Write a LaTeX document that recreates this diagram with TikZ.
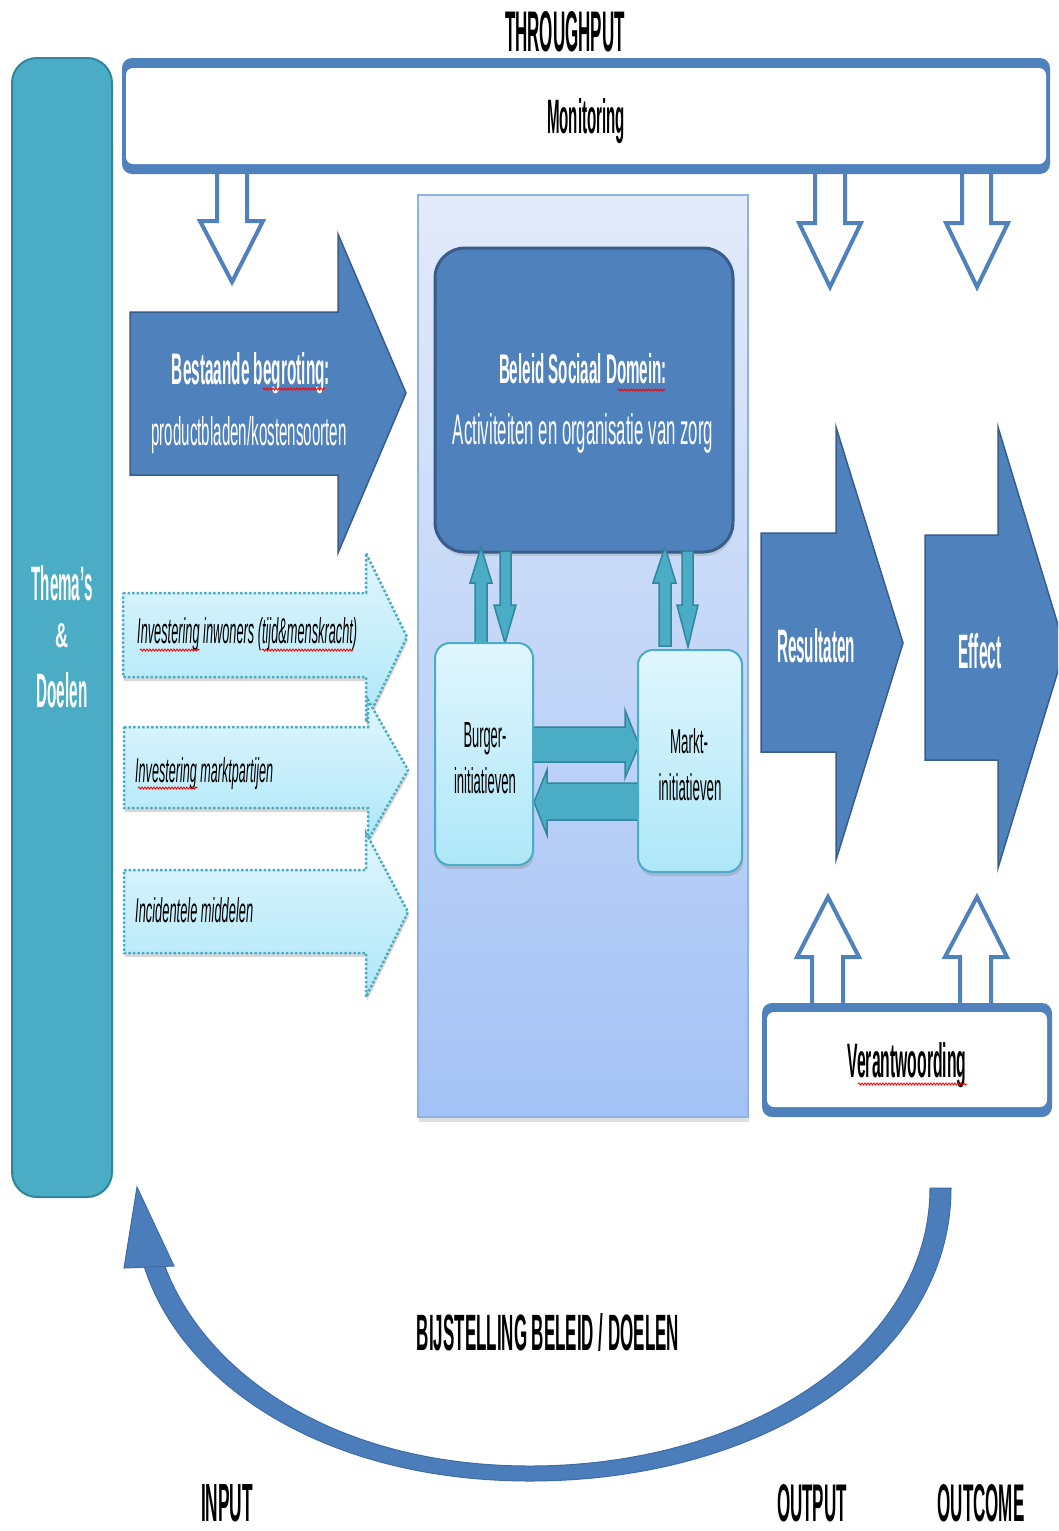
\documentclass[tikz,border=0pt]{standalone}
\usepackage{fontspec}
\setmainfont{Liberation Sans}
\usepackage{graphicx}
\usetikzlibrary{shadows,decorations.pathmorphing}
\definecolor{dblue}{HTML}{4F81BD}
\definecolor{dblueB}{HTML}{385D8A}
\definecolor{teal1}{HTML}{4BACC6}
\definecolor{teal2}{HTML}{31859C}
\definecolor{cyanT}{HTML}{E0F6FD}
\definecolor{cyanB}{HTML}{AEE7F8}
\definecolor{panT}{HTML}{E3EBFA}
\definecolor{panB}{HTML}{A3C2F5}
\definecolor{panE}{HTML}{8DB3E2}
\definecolor{arcB}{HTML}{4A7DBA}
\definecolor{arcD}{HTML}{3F6CA6}
\newcommand\fitt[3]{\resizebox{#1pt}{#2pt}{#3}}
\tikzset{
 lbl/.style={inner sep=0pt, anchor=base},
 lblw/.style={inner sep=0pt, anchor=base west},
 bigarrow/.style={fill=dblue, draw=dblueB, line width=1.5pt, line join=miter},
 hollowline/.style={draw=dblue, line width=4pt, line join=miter},
 tealarrow/.style={fill=teal1, draw=teal2, line width=1.5pt, line join=miter},
 cyanarrow/.style={top color=cyanT, bottom color=cyanB, draw=teal1, dash pattern=on 2.5pt off 2pt, line width=2.5pt, line join=miter, drop shadow={opacity=0.3,shadow xshift=1pt,shadow yshift=-4pt}},
 initbox/.style={rounded corners=15pt, top color=cyanT, bottom color=cyanB, draw=teal1, line width=2pt, drop shadow={opacity=0.3,shadow xshift=1pt,shadow yshift=-4pt}},
 squig/.style={draw=red, line width=0.9pt, decorate, decoration={snake, amplitude=1pt, segment length=3pt}},
}
\begin{document}
\begin{tikzpicture}[x=1pt,y=-1pt]
\useasboundingbox (0,0) rectangle (1058,1531);
\clip (0,0) rectangle (1058,1531);
\fill[white] (0,0) rectangle (1058,1531);

% left theme column
\path[fill=teal1, draw=teal2, line width=2pt, rounded corners=25pt] (12,58) rectangle (112,1197);

% hollow arrows from Monitoring
\fill[white] (217,165) -- (217,221) -- (200,221) -- (232,282) -- (263,221) -- (247,221) -- (247,165) -- cycle;
\draw[hollowline] (217,165) -- (217,221) -- (200,221) -- (232,282) -- (263,221) -- (247,221) -- (247,165);
\fill[white] (815,165) -- (815,223) -- (799,223) -- (830,287) -- (861,223) -- (845,223) -- (845,165) -- cycle;
\draw[hollowline] (815,165) -- (815,223) -- (799,223) -- (830,287) -- (861,223) -- (845,223) -- (845,165);
\fill[white] (962,165) -- (962,223) -- (946,223) -- (977,287) -- (1008,223) -- (991,223) -- (991,165) -- cycle;
\draw[hollowline] (962,165) -- (962,223) -- (946,223) -- (977,287) -- (1008,223) -- (991,223) -- (991,165);

% Monitoring box
\fill[dblue, rounded corners=10pt] (122,58) rectangle (1050,174);
\fill[white, rounded corners=7pt] (126,68) rectangle (1046,164);

% hollow arrows up to Resultaten / Effect
\fill[white] (812,1010) -- (812,957) -- (797,957) -- (828,897) -- (859,957) -- (843,957) -- (843,1010) -- cycle;
\draw[hollowline] (812,1010) -- (812,957) -- (797,957) -- (828,897) -- (859,957) -- (843,957) -- (843,1010);
\fill[white] (960,1010) -- (960,957) -- (945,957) -- (977,897) -- (1007,957) -- (991,957) -- (991,1010) -- cycle;
\draw[hollowline] (960,1010) -- (960,957) -- (945,957) -- (977,897) -- (1007,957) -- (991,957) -- (991,1010);

% Verantwoording box
\fill[dblue, rounded corners=10pt] (762,1003) rectangle (1052,1117);
\fill[white, rounded corners=7pt] (767,1012) rectangle (1047,1107);

% Bestaande begroting arrow
\path[bigarrow] (130,312) -- (338,312) -- (338,234) -- (406,393) -- (338,553) -- (338,475) -- (130,475) -- cycle;

% light cyan arrows
\path[cyanarrow] (123,593) -- (366,593) -- (366,553) -- (407,637) -- (366,722) -- (366,677) -- (123,677) -- cycle;
\path[cyanarrow] (124,727) -- (368,727) -- (368,700) -- (408,770) -- (368,840) -- (368,808) -- (124,808) -- cycle;
\path[cyanarrow] (124,870) -- (366,870) -- (366,833) -- (408,912) -- (366,997) -- (366,953) -- (124,953) -- cycle;

% central panel
\path[top color=panT, bottom color=panB, draw=panE, line width=1.5pt, drop shadow={opacity=0.25,shadow xshift=1pt,shadow yshift=-5pt}] (418,195) rectangle (748,1117);

% Beleid box
\path[fill=dblue, draw=dblueB, line width=3pt, rounded corners=30pt, drop shadow={opacity=0.25,shadow xshift=1pt,shadow yshift=-4pt}] (435,248) rectangle (733,552);

% small teal arrows
\path[tealarrow] (475,643) -- (475,583) -- (470,583) -- (481,547) -- (492,583) -- (487,583) -- (487,643) -- cycle;
\path[tealarrow] (500,551) -- (500,605) -- (494,605) -- (505,643) -- (516,605) -- (511,605) -- (511,551) -- cycle;
\path[tealarrow] (659,646) -- (659,583) -- (653,583) -- (665,547) -- (676,583) -- (671,583) -- (671,646) -- cycle;
\path[tealarrow] (682,551) -- (682,605) -- (677,605) -- (688,647) -- (698,605) -- (693,605) -- (693,551) -- cycle;
\path[tealarrow] (533,727) -- (625,727) -- (625,710) -- (639,745) -- (625,778) -- (625,762) -- (533,762) -- cycle;
\path[tealarrow] (640,783) -- (547,783) -- (547,770) -- (534,802) -- (547,835) -- (547,820) -- (640,820) -- cycle;

% initiative boxes
\path[initbox] (435,643) rectangle (533,865);
\path[initbox] (638,650) rectangle (742,872);

% Resultaten and Effect arrows
\path[bigarrow] (761,533) -- (836,533) -- (836,427) -- (903,643) -- (836,860) -- (836,752) -- (761,752) -- cycle;
\path[bigarrow] (925,535) -- (998,535) -- (998,427) -- (1065,648) -- (998,868) -- (998,760) -- (925,760) -- cycle;

% feedback curve (tapered band + head)
\path[fill=arcB, draw=arcD, line width=1pt]
  (951,1188) .. controls (951,1357) and (765,1481) .. (530,1481)
  .. controls (325,1481) and (182,1385) .. (144,1266)
  -- (163,1261)
  .. controls (202,1373) and (335,1466) .. (530,1466)
  .. controls (752,1466) and (930,1345) .. (930,1188) -- cycle;
\path[fill=arcB, draw=arcD, line width=1pt] (137,1187) -- (174,1266) -- (124,1268) -- cycle;

% texts
\node[lbl] (thr) at (565,52) {\fitt{120}{40}{\bfseries THROUGHPUT}};
\node[lbl] (mon) at (586,133) {\fitt{78}{35}{\bfseries Monitoring}};
\node[lbl,text=white] (th1) at (62,600) {\fitt{61}{35}{\bfseries Thema’s}};
\node[lbl,text=white] (th2) at (62,647) {\fitt{13}{24}{\bfseries \&}};
\node[lbl,text=white] (th3) at (62,707) {\fitt{51}{35}{\bfseries Doelen}};
\node[lbl,text=white] (best) at (251,384) {\fitt{158}{32}{\bfseries Bestaande begroting:}};
\node[lbl,text=white] (prod) at (249,445) {\fitt{195}{29}{productbladen/kostensoorten}};
\node[lbl,text=white] (bel) at (583,383) {\fitt{168}{30}{\bfseries Beleid Sociaal Domein:}};
\node[lbl,text=white] (act) at (583,444) {\fitt{260}{31}{Activiteiten en organisatie van zorg}};
\node[lblw] (inv1) at (137,643) {\fitt{220}{26}{\itshape Investering inwoners (tijd\&menskracht)}};
\node[lblw] (inv2) at (135,782) {\fitt{138}{25}{\itshape Investering marktpartijen}};
\node[lblw] (inc) at (135,922) {\fitt{118}{25}{\itshape Incidentele middelen}};
\node[lbl] (bu1) at (485,747) {\fitt{43}{25}{Burger-}};
\node[lbl] (bu2) at (485,793) {\fitt{62}{26}{initiatieven}};
\node[lbl] (ma1) at (689,753) {\fitt{38}{25}{Markt-}};
\node[lbl] (ma2) at (690,800) {\fitt{63}{27}{initiatieven}};
\node[lbl,text=white] (res) at (816,662) {\fitt{78}{34}{\bfseries Resultaten}};
\node[lbl,text=white] (eff) at (980,668) {\fitt{43}{35}{\bfseries Effect}};
\node[lbl] (ver) at (907,1077) {\fitt{119}{35}{\bfseries Verantwoording}};
\node[lbl] (bij) at (548,1350) {\fitt{262}{37}{\bfseries BIJSTELLING BELEID / DOELEN}};
\node[lbl] (inp) at (227,1521) {\fitt{52}{37}{\bfseries INPUT}};
\node[lbl] (outp) at (812,1521) {\fitt{70}{37}{\bfseries OUTPUT}};
\node[lbl] (outc) at (981,1521) {\fitt{87}{37}{\bfseries OUTCOME}};

% spell-check underlines
\draw[squig] (263,389) -- (325,389);
\draw[squig] (618,390) -- (665,390);
\draw[squig] (140,650) -- (200,650);
\draw[squig] (262,650) -- (353,650);
\draw[squig] (138,788) -- (198,788);
\draw[squig] (858,1084) -- (967,1084);
\end{tikzpicture}
\end{document}
